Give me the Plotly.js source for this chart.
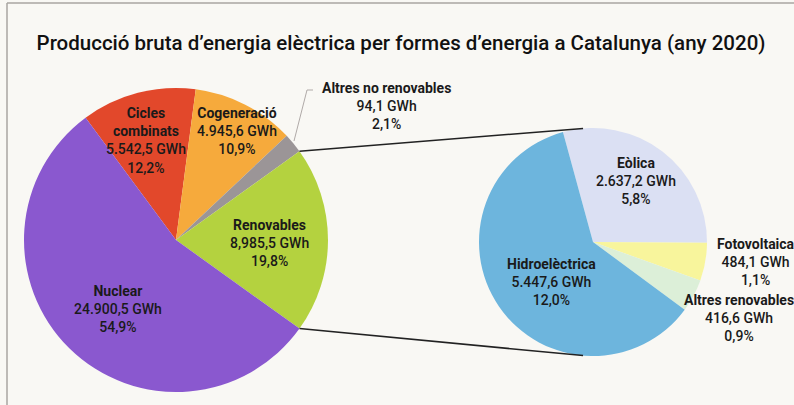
<!DOCTYPE html>
<html>
<head>
<meta charset="utf-8">
<script src="https://cdn.plot.ly/plotly-3.0.1.min.js"></script>
<style>html,body{margin:0;padding:0;background:#f9f8f4;}#chart{width:794px;height:405px;}</style>
</head>
<body>
<div id="chart"></div>
<script>
// ---- data ----
const mainNames = ['Cicles combinats', 'Cogeneració', 'Altres no renovables', 'Renovables', 'Nuclear'];
const mainGWh = ['5.542,5', '4.945,6', '94,1', '8,985,5', '24.900,5'];
const mainPct = [12.2, 10.9, 2.1, 19.8, 54.9];
const mainColors = ['#e2482b', '#f6aa3c', '#9b9597', '#b4d23f', '#8a58cf'];

const renNames = ['Eòlica', 'Fotovoltaica', 'Altres renovables', 'Hidroelèctrica'];
const renGWh = [2637.2, 484.1, 416.6, 5447.6];
const renGWhLabels = ['2.637,2', '484,1', '416,6', '5.447,6'];
const renPct = [5.8, 1.1, 0.9, 12.0];
const renColors = ['#dbe0f3', '#f8f59c', '#dcefd8', '#6db5dd'];

const titleText = 'Producció bruta d’energia elèctrica per formes d’energia a Catalunya (any 2020)';

// ---- geometry (layout) ----
const W = 794, H = 405;
const L = {cx: 176, cy: 240, r: 152, rot: -36.5};
const R = {cx: 593, cy: 242, r: 114, rot: -15.3};
function dom(g) {
  return {x: [(g.cx - g.r) / W, (g.cx + g.r) / W], y: [1 - (g.cy + g.r) / H, 1 - (g.cy - g.r) / H]};
}
const px = x => x / W, py = y => 1 - y / H;
const fmtPct = v => v.toFixed(1).replace('.', ',') + '%';

const mainLabelPos = [[146, 140], [237, 131], [386, 106], [269, 243], [118, 309]];
const renLabelPos = [[636, 181], [551, 282], [756, 262], [739, 318]];
const renOrderForPos = [0, 3, 1, 2];

const traces = [
  {type: 'pie', labels: mainNames, values: mainPct, sort: false, direction: 'clockwise',
   rotation: L.rot, marker: {colors: mainColors, line: {width: 0}}, textinfo: 'none',
   hoverinfo: 'label+value', domain: dom(L)},
  {type: 'pie', labels: renNames, values: renGWh, sort: false, direction: 'clockwise',
   rotation: R.rot, marker: {colors: renColors, line: {width: 0}}, textinfo: 'none',
   hoverinfo: 'label+value', domain: dom(R)}
];

const annFont = {family: 'Roboto, sans-serif', size: 14, color: '#1a1a1a', weight: 500};
const annotations = [];
mainNames.forEach((n, i) => {
  const nm = n.replace('Cicles ', 'Cicles<br>');
  annotations.push({xref: 'paper', yref: 'paper', x: px(mainLabelPos[i][0]), y: py(mainLabelPos[i][1]),
    xanchor: 'center', yanchor: 'middle', showarrow: false, align: 'center', font: annFont,
    text: '<b>' + nm + '</b><br>' + mainGWh[i] + ' GWh<br>' + fmtPct(mainPct[i])});
});
renOrderForPos.forEach((i, k) => {
  annotations.push({xref: 'paper', yref: 'paper', x: px(renLabelPos[k][0]), y: py(renLabelPos[k][1]),
    xanchor: 'center', yanchor: 'middle', showarrow: false, align: 'center', font: annFont,
    text: '<b>' + renNames[i] + '</b><br>' + renGWhLabels[i] + ' GWh<br>' + fmtPct(renPct[i])});
});

// connector lines from the Renovables slice boundaries
const tot = mainPct.reduce((a, b) => a + b, 0);
let cum = 0; const bounds = [];
mainPct.forEach(v => { bounds.push(L.rot + cum / tot * 360); cum += v; });
const a1 = bounds[3], a2 = bounds[3] + mainPct[3] / tot * 360;
function pt(g, deg) { const t = deg * Math.PI / 180; return [g.cx + g.r * Math.sin(t), g.cy - g.r * Math.cos(t)]; }
const p1 = pt(L, a1), p2 = pt(L, a2), q1 = pt(R, -5), q2 = pt(R, 185);

const shapes = [
  {type: 'line', xref: 'paper', yref: 'paper', x0: px(p1[0]), y0: py(p1[1]), x1: px(q1[0]), y1: py(q1[1]), line: {color: '#222', width: 1.5}},
  {type: 'line', xref: 'paper', yref: 'paper', x0: px(p2[0]), y0: py(p2[1]), x1: px(q2[0]), y1: py(q2[1]), line: {color: '#222', width: 1.5}},
  // leader for Altres no renovables
  {type: 'path', xref: 'paper', yref: 'paper', path: 'M ' + px(313) + ' ' + py(90) + ' L ' + px(307) + ' ' + py(90) + ' L ' + px(294) + ' ' + py(141), line: {color: '#b0aaa8', width: 1}},
  // frame
  {type: 'line', xref: 'paper', yref: 'paper', x0: px(7), y0: py(3), x1: 1, y1: py(3), line: {color: '#a8a6a2', width: 1.5}},
  {type: 'line', xref: 'paper', yref: 'paper', x0: px(7), y0: py(3), x1: px(7), y1: 0, line: {color: '#a8a6a2', width: 1.5}}
];

const layout = {
  width: W, height: H, margin: {l: 0, r: 0, t: 0, b: 0},
  paper_bgcolor: '#f9f8f4', plot_bgcolor: '#f9f8f4', showlegend: false,
  title: {text: titleText, x: 401 / W, xanchor: 'center', y: py(43), yanchor: 'middle', yref: 'container',
    font: {family: 'Roboto, sans-serif', size: 20.5, color: '#111', weight: 500}},
  annotations: annotations, shapes: shapes
};
Plotly.newPlot('chart', traces, layout, {displayModeBar: false, staticPlot: true});
</script>
</body>
</html>
